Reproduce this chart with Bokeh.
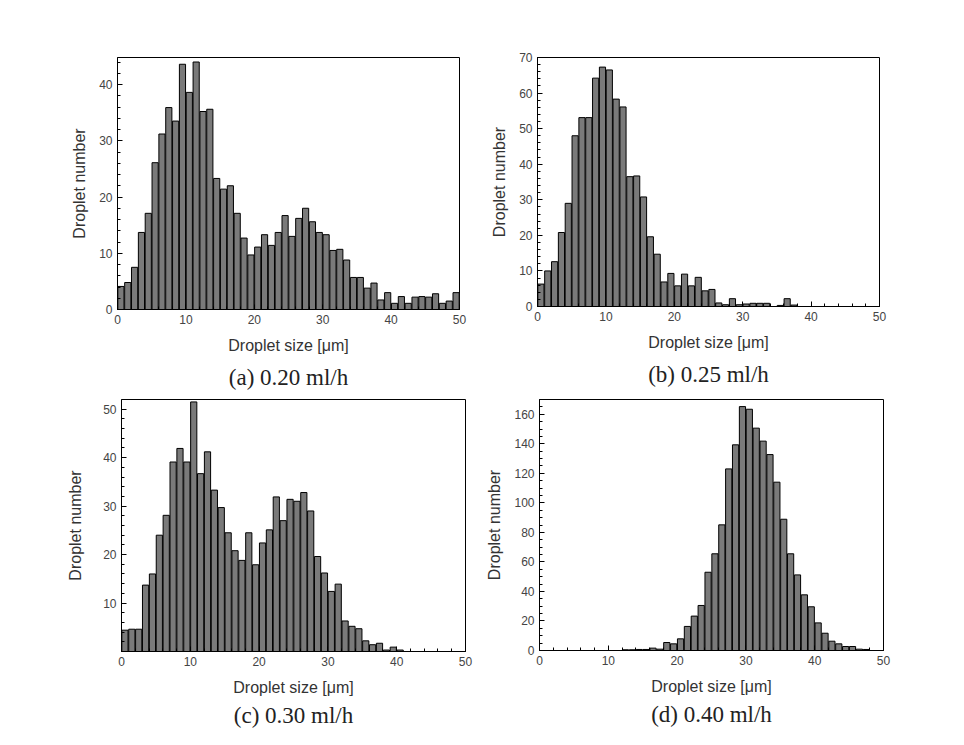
from bokeh.plotting import figure
from bokeh.layouts import column, row
from bokeh.models import Title, SingleIntervalTicker, FixedTicker
from bokeh.embed import file_html
from bokeh.resources import INLINE

bin_centers = [i + 0.5 for i in range(50)]

counts_a = [4.1, 4.8, 7.5, 13.7, 17.1, 26.1, 31.2, 35.9, 33.5, 43.6,
            38.6, 44.0, 35.2, 35.6, 23.3, 21.4, 22.0, 17.1, 12.7, 9.7,
            11.1, 13.3, 11.4, 13.7, 16.7, 13.0, 16.2, 18.0, 15.6, 13.7,
            13.3, 10.5, 10.7, 8.8, 5.7, 5.7, 3.8, 4.7, 1.7, 3.0,
            1.1, 2.3, 1.1, 2.2, 2.3, 2.2, 2.8, 1.1, 1.5, 3.0]
counts_b = [6.3, 10.0, 12.6, 20.8, 29.0, 48.0, 53.1, 53.1, 64.2, 67.3,
            66.5, 58.3, 56.1, 36.5, 36.7, 30.8, 19.6, 14.7, 6.9, 9.3,
            5.8, 9.1, 5.8, 8.2, 4.4, 4.8, 1.0, 0.5, 2.2, 0.5,
            0.7, 0.9, 0.9, 0.9, 0.0, 0.3, 2.2, 0.4, 0.0, 0.0,
            0.0, 0.0, 0.0, 0.0, 0.0, 0.0, 0.0, 0.0, 0.0, 0.0]
counts_c = [4.4, 4.6, 4.6, 13.7, 16.0, 24.0, 28.1, 39.1, 41.9, 39.1,
            51.5, 36.7, 41.2, 33.3, 29.7, 24.5, 20.8, 18.8, 24.5, 17.9,
            22.4, 25.1, 31.9, 27.0, 31.4, 31.0, 32.8, 29.0, 19.6, 16.2,
            12.4, 13.9, 6.3, 5.2, 4.7, 2.2, 1.4, 1.7, 0.3, 0.9,
            0.3, 0.0, 0.0, 0.0, 0.0, 0.0, 0.0, 0.0, 0.0, 0.0]
counts_d = [0, 0, 0, 0, 0, 0, 0, 0, 0, 0,
            0, 0, 0.5, 0.5, 0.7, 0.7, 1.6, 0.9, 5.4, 4.5,
            7.9, 16.3, 23.3, 30.5, 53.0, 65.5, 85.1, 123.0, 139.3, 165.2,
            163.4, 150.6, 141.8, 132.7, 114.0, 88.9, 65.5, 51.2, 37.7, 29.6,
            18.7, 11.7, 6.3, 4.5, 2.7, 2.7, 0.9, 0.7, 0.0, 0.0]

captions = ["(a) 0.20 ml/h", "(b) 0.25 ml/h", "(c) 0.30 ml/h", "(d) 0.40 ml/h"]
x_label = "Droplet size [\u03bcm]"
y_label = "Droplet number"
c_major = [10, 20, 30, 40, 50]
c_minor = [2, 4, 6, 8, 12, 14, 16, 18, 22, 24, 26, 28, 32, 34, 36, 38, 42, 44, 46, 48]

SANS = "Liberation Sans"
SERIF = "Liberation Serif"


def panel(counts, caption, ymax, yticker, fw, fh, bl, br, bt, bb, cap_standoff, ylab_standoff):
    p = figure(frame_width=fw, frame_height=fh, x_range=(0, 50), y_range=(0, ymax),
               output_backend="svg", toolbar_location=None,
               min_border_left=bl, min_border_right=br, min_border_top=bt, min_border_bottom=bb)
    p.vbar(x=bin_centers, top=counts, width=0.9, bottom=0,
           fill_color="#7a7a7a", line_color="black", line_width=1)
    p.xgrid.visible = False
    p.ygrid.visible = False
    p.outline_line_color = "black"
    p.outline_line_width = 1
    p.xaxis.ticker = SingleIntervalTicker(interval=10, num_minor_ticks=5)
    p.yaxis.ticker = yticker
    for ax in (p.xaxis, p.yaxis):
        ax.axis_line_color = "black"
        ax.major_tick_in = 5
        ax.major_tick_out = 0
        ax.minor_tick_in = 3
        ax.minor_tick_out = 0
        ax.major_tick_line_color = "black"
        ax.minor_tick_line_color = "black"
        ax.major_label_text_font = SANS
        ax.major_label_text_font_size = "12px"
        ax.major_label_text_color = "#444444"
        ax.axis_label_text_font = SANS
        ax.axis_label_text_font_size = "16px"
        ax.axis_label_text_font_style = "normal"
        ax.axis_label_text_color = "#333333"
        ax.major_label_standoff = 5
    p.xaxis.axis_label = x_label
    p.yaxis.axis_label = y_label
    p.xaxis.axis_label_standoff = 10
    p.yaxis.axis_label_standoff = ylab_standoff
    p.add_layout(Title(text=caption, align="center", text_font=SERIF,
                       text_font_size="23px", text_font_style="normal",
                       text_color="#222222", standoff=cap_standoff), "below")
    return p


pa = panel(counts_a, captions[0], 44.8, SingleIntervalTicker(interval=10, num_minor_ticks=5),
           342, 252, 117, 18, 53, 85, 12, 8)
pb = panel(counts_b, captions[1], 70, SingleIntervalTicker(interval=10, num_minor_ticks=5),
           342, 249, 60, 10, 57, 84, 12, 8)
pc = panel(counts_c, captions[2], 52, FixedTicker(ticks=c_major, minor_ticks=c_minor),
           344, 252, 121, 14, 7, 85, 5, 16)
pd = panel(counts_d, captions[3], 170, SingleIntervalTicker(interval=20, num_minor_ticks=4),
           344, 251, 60, 10, 7, 86, 5, 8)

layout = column(row(pa, pb), row(pc, pd))
open("out.html", "w").write(file_html(layout, INLINE))
